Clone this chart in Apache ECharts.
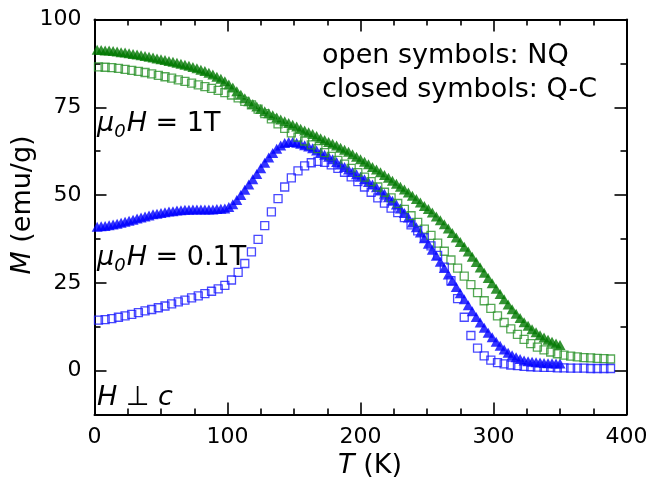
<!DOCTYPE html>
<html>
<head>
<meta charset="utf-8">
<script src="https://cdn.jsdelivr.net/npm/echarts@6/dist/echarts.min.js"></script>
<style>
  html, body { margin: 0; padding: 0; background: #fff; }
  #chart { width: 652px; height: 487px; }
</style>
</head>
<body>
<div id="chart"></div>
<script>
// Temperature grids (K)
const tOpen = [3,8,13,18,23,28,33,38,43,48,53,58,63,68,73,78,83,88,93,98,103,108,113,118,123,128,133,138,143,148,153,158,163,168,173,178,183,188,193,198,203,208,213,218,223,228,233,238,243,248,253,258,263,268,273,278,283,288,293,298,303,308,313,318,323,328,333,338,343,348,353,358,363,368,373,378,383,388];
const tClosed = [2,5,8,11,14,17,20,23,26,29,32,35,38,41,44,47,50,53,56,59,62,65,68,71,74,77,80,83,86,89,92,95,98,101,104,107,110,113,116,119,122,125,128,131,134,137,140,143,146,149,152,155,158,161,164,167,170,173,176,179,182,185,188,191,194,197,200,203,206,209,212,215,218,221,224,227,230,233,236,239,242,245,248,251,254,257,260,263,266,269,272,275,278,281,284,287,290,293,296,299,302,305,308,311,314,317,320,323,326,329,332,335,338,341,344,347,350];

// Magnetization M (emu/g)
// NQ, mu0H = 0.1 T
const mNQ01 = [14.4,14.5,14.8,15.2,15.6,16.0,16.5,17.0,17.4,17.9,18.4,19.0,19.6,20.1,20.7,21.3,21.9,22.6,23.3,24.3,25.8,28.0,30.5,33.8,37.4,41.3,45.2,49.0,52.3,54.9,56.9,58.3,59.2,59.6,59.3,58.6,57.6,56.5,55.2,53.8,52.3,50.8,49.2,47.7,46.3,45.0,43.6,41.5,39.8,37.8,35.5,32.8,29.5,25.6,20.5,15.2,10.0,6.4,4.2,3.0,2.3,1.9,1.6,1.4,1.2,1.1,1.0,0.9,0.9,0.8,0.8,0.7,0.7,0.7,0.6,0.6,0.6,0.6];
// NQ, mu0H = 1 T
const mNQ1 = [86.5,86.4,86.3,86.1,85.8,85.5,85.2,84.9,84.5,84.1,83.7,83.3,82.8,82.4,81.9,81.4,80.9,80.4,79.8,79.2,78.5,77.7,76.7,75.7,74.5,73.2,71.7,70.3,69.0,67.7,66.5,65.4,64.3,63.2,62.1,61.0,59.9,58.8,57.6,56.4,55.1,53.8,52.3,50.8,49.2,47.6,45.9,44.1,42.2,40.3,38.5,36.3,34.0,31.5,29.2,26.9,24.5,22.2,19.9,17.7,15.6,13.7,11.9,10.3,8.9,7.7,6.7,5.9,5.3,4.8,4.4,4.1,3.9,3.7,3.6,3.5,3.4,3.3];
// Q-C, mu0H = 0.1 T
const mQC01 = [41.0,41.1,41.2,41.4,41.6,41.8,42.1,42.4,42.7,43.0,43.3,43.6,43.9,44.2,44.5,44.7,44.9,45.1,45.3,45.4,45.6,45.7,45.8,45.8,45.9,45.9,45.9,45.9,45.9,45.9,46.0,46.1,46.2,46.6,47.4,48.6,50.0,51.5,53.0,54.5,56.0,57.6,59.2,60.7,62.0,63.2,64.1,64.8,65.1,65.1,64.9,64.6,64.2,63.8,63.3,62.7,62.1,61.5,60.9,60.2,59.4,58.7,58.0,57.3,56.6,55.9,55.2,54.5,53.7,53.0,52.2,51.3,50.4,49.4,48.4,47.3,46.2,44.9,43.6,42.2,40.8,39.3,37.7,36.1,34.4,32.7,31.0,29.2,27.4,25.6,23.8,22.0,20.3,18.6,16.9,15.3,13.7,12.2,10.8,9.5,8.2,7.1,6.0,5.1,4.4,3.8,3.3,2.9,2.7,2.5,2.4,2.3,2.2,2.1,2.1,2.0,2.0];
// Q-C, mu0H = 1 T
const mQC1 = [91.4,91.3,91.2,91.2,91.0,90.9,90.7,90.6,90.4,90.2,90.0,89.8,89.6,89.4,89.2,88.9,88.7,88.5,88.2,88.0,87.7,87.4,87.1,86.8,86.5,86.1,85.7,85.3,84.8,84.3,83.7,83.1,82.4,81.5,80.6,79.6,78.6,77.6,76.7,75.9,75.2,74.5,73.9,73.3,72.7,72.1,71.5,71.0,70.5,70.0,69.5,68.9,68.4,67.9,67.4,66.8,66.2,65.7,65.1,64.6,64.1,63.5,62.9,62.3,61.6,60.9,60.2,59.5,58.8,58.0,57.3,56.5,55.7,54.9,54.1,53.2,52.4,51.6,50.7,49.8,48.9,47.9,46.9,46.0,45.0,43.9,42.8,41.7,40.5,39.2,37.9,36.6,35.3,33.9,32.4,30.9,29.4,27.9,26.4,24.9,23.3,21.8,20.3,18.8,17.5,16.2,15.0,13.8,12.8,11.8,10.9,10.1,9.4,8.8,8.2,7.7,7.3];

// Axis ticks
const yMajorTicks = [0, 25, 50, 75, 100];
const yMinorTicks = [-12.5, 12.5, 37.5, 62.5, 87.5];

const FONT = '"DejaVu Sans", sans-serif';
const INK = '#000';
const BLUE = '#0000ff';
const BLUE_LINE = '#1a1aff';
const GREEN_FILL = '#007800';
const GREEN_LINE = '#2a922a';

const pairs = (t, m) => t.map((v, i) => [v, m[i]]);

function xAxisCfg(pos, showLabel) {
  return {
    type: 'value', position: pos, min: 0, max: 400, interval: 100,
    axisLine: { show: true, onZero: false, lineStyle: { color: INK, width: 2 } },
    axisTick: { show: true, inside: true, length: 12, lineStyle: { color: INK, width: 1.6 } },
    minorTick: { show: true, splitNumber: 4, length: 6, lineStyle: { color: INK, width: 1.6 } },
    axisLabel: { show: showLabel, color: INK, fontFamily: FONT, fontSize: 22, margin: 12 },
    splitLine: { show: false }
  };
}
function yAxisCfg(pos, major, showLine, showLabel) {
  return {
    type: 'value', position: pos, min: -12.5, max: 100, interval: 12.5,
    axisLine: { show: showLine, onZero: false, lineStyle: { color: INK, width: 2 } },
    axisTick: major
      ? { show: true, inside: true, length: 12, customValues: yMajorTicks, lineStyle: { color: INK, width: 1.6 } }
      : { show: true, inside: true, length: 6, customValues: yMinorTicks, lineStyle: { color: INK, width: 1.6 } },
    axisLabel: {
      show: showLabel, color: INK, fontFamily: FONT, fontSize: 22, margin: 13,
      customValues: yMajorTicks,
      formatter: v => (v % 25 === 0 ? String(v) : '')
    },
    splitLine: { show: false }
  };
}

const richBase = {
  i: { fontFamily: FONT, fontSize: 27, fontStyle: 'italic', fill: INK },
  n: { fontFamily: FONT, fontSize: 27, fontStyle: 'normal', fill: INK },
  s: { fontFamily: FONT, fontSize: 18, fontStyle: 'italic', fill: INK, padding: [16, 1, 0, 0] }
};
function label(x, y, text, align) {
  return {
    type: 'text', x: x, y: y, silent: true,
    style: { text: text, rich: richBase, fontFamily: FONT, fontSize: 27, fill: INK, align: align || 'left', verticalAlign: 'middle' }
  };
}

const chart = echarts.init(document.getElementById('chart'), null, { renderer: 'canvas' });
chart.setOption({
  animation: false,
  backgroundColor: '#fff',
  grid: { left: 94.5, right: 25.5, top: 19.5, bottom: 72.5 },
  xAxis: [xAxisCfg('bottom', true), xAxisCfg('top', false)],
  yAxis: [
    yAxisCfg('left', false, true, true),
    yAxisCfg('left', true, false, false),
    yAxisCfg('right', false, true, false),
    yAxisCfg('right', true, false, false)
  ],
  series: [
    {
      name: 'Q-C 1T', type: 'scatter', symbol: 'triangle', symbolSize: [11, 10],
      itemStyle: { color: GREEN_FILL }, data: pairs(tClosed, mQC1)
    },
    {
      name: 'Q-C 0.1T', type: 'scatter', symbol: 'triangle', symbolSize: [11, 10],
      itemStyle: { color: BLUE }, data: pairs(tClosed, mQC01)
    },
    {
      name: 'NQ 1T', type: 'scatter', symbol: 'rect', symbolSize: 8,
      itemStyle: { color: 'rgba(255,255,255,0)', borderColor: GREEN_LINE, borderWidth: 1.3 },
      data: pairs(tOpen, mNQ1)
    },
    {
      name: 'NQ 0.1T', type: 'scatter', symbol: 'rect', symbolSize: 8,
      itemStyle: { color: 'rgba(255,255,255,0)', borderColor: BLUE_LINE, borderWidth: 1.3 },
      data: pairs(tOpen, mNQ01)
    }
  ],
  graphic: [
    label(322, 56, '{n|open symbols: NQ}'),
    label(322, 90, '{n|closed symbols: Q-C}'),
    label(97, 124, '{i|μ}{s|0}{i|H}{n| = 1T}'),
    label(97, 258, '{i|μ}{s|0}{i|H}{n| = 0.1T}'),
    label(97, 398, '{i|H}{n| ⊥ }{i|c}'),
    label(370, 466, '{i|T}{n| (K)}', 'center'),
    {
      type: 'text', x: 23, y: 205, rotation: Math.PI / 2, silent: true,
      style: { text: '{i|M}{n| (emu/g)}', rich: richBase, fontFamily: FONT, fontSize: 27, fill: INK, align: 'center', verticalAlign: 'middle' }
    }
  ]
});
</script>
</body>
</html>
